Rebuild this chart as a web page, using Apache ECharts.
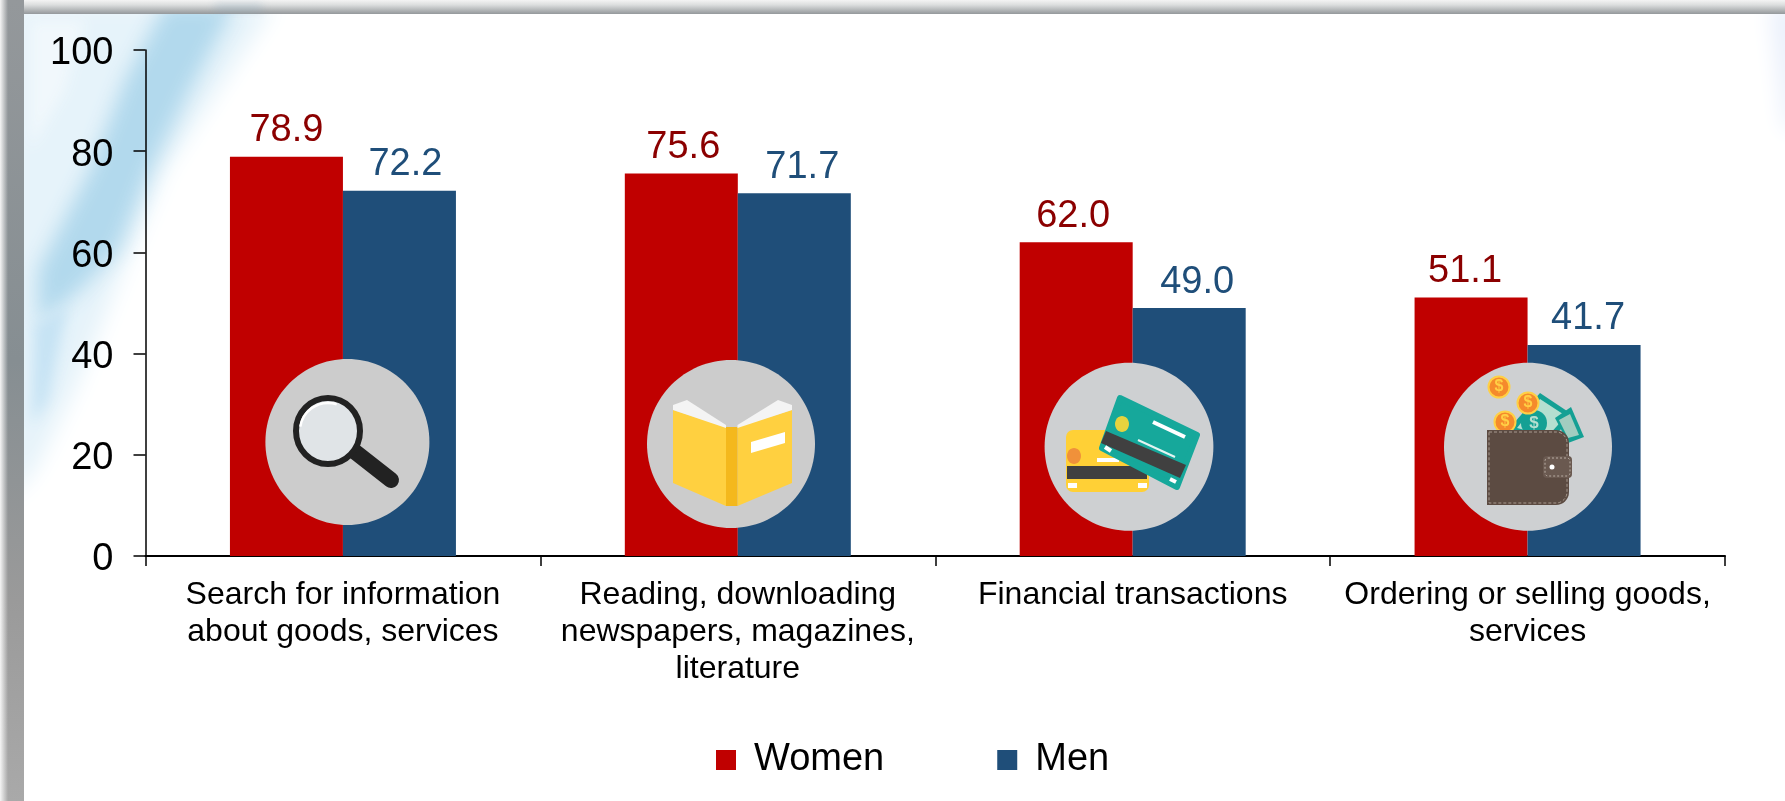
<!DOCTYPE html>
<html><head><meta charset="utf-8">
<style>html,body{margin:0;padding:0;background:#fff}#c{width:1785px;height:801px}</style>
<script src="https://cdn.jsdelivr.net/npm/echarts@6/dist/echarts.min.js"></script>
</head><body><div id="c"></div>
<script>
const categories = ['Search for information\nabout goods, services','Reading, downloading\nnewspapers, magazines,\nliterature','Financial transactions','Ordering or selling goods,\nservices'];
const women = [78.9,75.6,62.0,51.1];
const men = [72.2,71.7,49.0,41.7];
const yTicks = [0,20,40,60,80,100];
const womenLabelShift = [0,2,-3,-6];
const menLabelShift = [6,8,8,4];

const Z=20;
function disc(cx,cy,rx,ry,fill){return {type:'ellipse',shape:{cx,cy,rx,ry},style:{fill},z:Z};}
function poly(points,fill,z){return {type:'polygon',shape:{points},style:{fill},z:z||Z+1};}
function rect(x,y,width,height,fill,r,z){return {type:'rect',shape:{x,y,width,height,r:r||0},style:{fill},z:z||Z+1};}
function circ(cx,cy,r,fill,stroke,lw,z){return {type:'circle',shape:{cx,cy,r},style:{fill,stroke,lineWidth:lw||0},z:z||Z+2};}
function seg(x1,y1,x2,y2,stroke,w,z,cap){return {type:'line',shape:{x1,y1,x2,y2},style:{stroke,lineWidth:w,lineCap:cap||'butt'},z:z||Z+2};}
function glyph(t,x,y,fill,size,z){return {type:'text',style:{text:t,x,y,fill,font:'bold '+size+'px "Liberation Sans"',align:'center',verticalAlign:'middle'},z:z||Z+4};}

const OFF=3000;
function blob(points,color,blur,z){
 return {type:'polygon',shape:{points:points.map(p=>[p[0]-OFF,p[1]])},
  style:{fill:color,shadowColor:color,shadowBlur:blur,shadowOffsetX:OFF},z:z===undefined?-5:z,silent:true};
}

const bg = [
 blob([[10,5],[275,5],[165,170],[125,265],[75,390],[35,470],[10,500]],'#e6f3fa',22),
 blob([[165,5],[235,5],[190,90],[150,170],[118,250],[80,290],[38,325],[38,270],[90,170],[125,80]],'#b2d9ed',20),
 blob([[34,325],[68,305],[48,400],[32,425]],'#c6e3f4',14),
 blob([[30,20],[85,20],[65,90],[30,150]],'#f1f8fc',14),
 blob([[1770,5],[1800,5],[1800,130],[1785,130]],'#e9effb',22),
 {type:'rect',shape:{x:0,y:0,width:1785,height:14},style:{fill:{type:'linear',x:0,y:0,x2:0,y2:1,colorStops:[{offset:0,color:'#f4f4f4'},{offset:.35,color:'#dcdede'},{offset:1,color:'#94989b'}]}},z:-4,silent:true},
 {type:'rect',shape:{x:0,y:0,width:24,height:801},style:{fill:{type:'linear',x:0,y:0,x2:0,y2:1,colorStops:[{offset:0,color:'#94989b'},{offset:.45,color:'#868e92'},{offset:.75,color:'#9a9a9a'},{offset:1,color:'#a9a9a9'}]}},z:-3,silent:true},
 {type:'rect',shape:{x:0,y:0,width:8,height:801},style:{fill:{type:'linear',x:0,y:0,x2:1,y2:0,colorStops:[{offset:0,color:'rgba(245,245,245,1)'},{offset:1,color:'rgba(245,245,245,0)'}]}},z:-2,silent:true},
 blob([[215,4],[262,4],[262,11],[215,11]],'rgba(120,160,185,0.55)',10,-1)
];

const icons = [
 // magnifier
 disc(347.4,442,82,83,'#cccccc'),
 seg(354,451,391,480,'#222222',16,Z+2,'round'),
 {type:'ellipse',shape:{cx:328,cy:431,rx:32,ry:33},style:{fill:'#e0e4e7',stroke:'#222222',lineWidth:6},z:Z+3},
 {type:'arc',shape:{cx:328,cy:431,r:28,startAngle:Math.PI*1.05,endAngle:Math.PI*1.6},style:{stroke:'#ffffff',lineWidth:2.5,fill:'none'},z:Z+4},

 // book
 disc(731,444,84,84,'#cccccc'),
 poly([[673,410],[726,427],[726,506],[673,483]],'#ffd040'),
 poly([[792,410],[737.5,427],[737.5,506],[792,483]],'#ffd040'),
 rect(726,427,11.5,79,'#f4b81c'),
 poly([[673,405],[687,400],[726,425],[726,428],[673,410]],'#f4f4f4'),
 poly([[792,405],[778,400],[737.5,425],[737.5,428],[792,410]],'#f4f4f4'),
 poly([[751,442],[785,432],[785,443],[751,453]],'#ffffff',Z+2),

 // cards
 disc(1129,446.7,84.4,84,'#ced0d2'),
 rect(1066,430,83,62,'#ffd036',7),
 rect(1067,466,80,13,'#404040',0,Z+2),
 rect(1068,483,9,5,'#ffffff',0,Z+2),
 rect(1138,483,9,5,'#ffffff',0,Z+2),
 rect(1097,458,22,4,'#ffffff',0,Z+2),
 {type:'ellipse',shape:{cx:1074,cy:456,rx:7,ry:8},style:{fill:'#f0913a'},z:Z+2},
 {type:'polygon',shape:{points:[[1120,398],[1197,435],[1177,487],[1102,448]],smooth:0},style:{fill:'#16a89b',stroke:'#16a89b',lineWidth:6,lineJoin:'round'},z:Z+3},
 poly([[1106,431],[1186,465],[1180,478],[1101,443]],'#404040',Z+4),
 {type:'ellipse',shape:{cx:1122,cy:424,rx:7,ry:8},style:{fill:'#e6d33e'},z:Z+4},
 seg(1153,422,1185,437,'#ffffff',4,Z+4),
 seg(1138,440,1175,457,'#e4f4f2',2,Z+4),
 seg(1105,447,1111,451,'#ffffff',4,Z+4),
 seg(1170,479,1176,482,'#ffffff',4,Z+4),

 // wallet
 disc(1528,446.7,84,84,'#ced0d2'),
 poly([[1540,393],[1573,415],[1550,442],[1508,430]],'#14a094'),
 poly([[1540,399],[1566,416],[1548,436],[1517,428]],'#b5dfd0',Z+1),
 poly([[1571,407],[1584,437],[1568,443],[1555,418]],'#14a094'),
 poly([[1570,414],[1579,435],[1568,438],[1559,420]],'#a2cdc0'),
 circ(1534,423,13,'#14a094',null,0,Z+2),
 glyph('$',1534,423,'#b5dfd0',17,Z+2),
 circ(1499,387,10.5,'#f58a2c','#ffd045',2,Z+3),
 circ(1528,403,10.5,'#f58a2c','#ffd045',2,Z+3),
 circ(1505,422,10.5,'#f58a2c','#ffd045',2,Z+3),
 glyph('$',1499,387,'#ffd045',16),
 glyph('$',1528,403,'#ffd045',16),
 glyph('$',1505,422,'#ffd045',16),
 rect(1487,430,82,75,'#5c4b42',[0,13,13,0],Z+5),
 {type:'rect',shape:{x:1489,y:432,width:78,height:71,r:[0,11,11,0]},style:{fill:'none',stroke:'#a79a8f',lineWidth:1,lineDash:[3,2]},z:Z+6},
 rect(1543,456,29,22,'#6a5950',4,Z+6),
 {type:'rect',shape:{x:1545,y:458,width:25,height:18,r:3},style:{fill:'none',stroke:'#b9aea4',lineWidth:1,lineDash:[2,2]},z:Z+7},
 circ(1552,467,2.5,'#ffffff',null,0,Z+7),
];

const chart = echarts.init(document.getElementById('c'),null,{renderer:'canvas'});
const labelFont=38;
chart.setOption({
 animation:false,
 backgroundColor:'#ffffff',
 textStyle:{fontFamily:'"Liberation Sans",Arial,sans-serif'},
 graphic:{elements:bg.concat(icons)},
 legend:{data:['Women','Men'],left:711,top:736,itemWidth:20,itemHeight:20,itemGap:113,icon:'rect',
   textStyle:{fontSize:38,color:'#000',padding:[7,0,0,13]}},
 grid:{left:145.5,right:60,top:50,bottom:245,containLabel:false},
 xAxis:{type:'category',data:categories,
   axisLine:{lineStyle:{color:'#000',width:2}},
   axisTick:{show:true,length:10,alignWithLabel:false,lineStyle:{color:'#000',width:1.5}},
   axisLabel:{color:'#000',fontSize:32,lineHeight:37,margin:21,interval:0,align:'center',verticalAlign:'top'}},
 yAxis:{type:'value',min:0,max:100,interval:20,
   axisLine:{show:true,lineStyle:{color:'#000',width:1.5}},
   axisTick:{show:true,length:12,lineStyle:{color:'#000',width:1.5}},
   splitLine:{show:false},
   axisLabel:{color:'#000',fontSize:38,margin:32,verticalAlign:'top',lineHeight:8,formatter:v=>yTicks.includes(v)?String(v):''}},
 series:[
  {name:'Women',type:'bar',barWidth:113,barGap:0,itemStyle:{color:'#C00000'},
   data:women.map((v,i)=>({value:v,label:{offset:[womenLabelShift[i],0]}})),
   label:{show:true,position:'top',distance:7,color:'#8B0000',fontSize:labelFont,formatter:p=>p.value.toFixed(1)}},
  {name:'Men',type:'bar',barWidth:113,itemStyle:{color:'#1F4E79'},
   data:men.map((v,i)=>({value:v,label:{offset:[menLabelShift[i],0]}})),
   label:{show:true,position:'top',distance:7,color:'#1F4E79',fontSize:labelFont,formatter:p=>p.value.toFixed(1)}}
 ]
});
</script></body></html>
